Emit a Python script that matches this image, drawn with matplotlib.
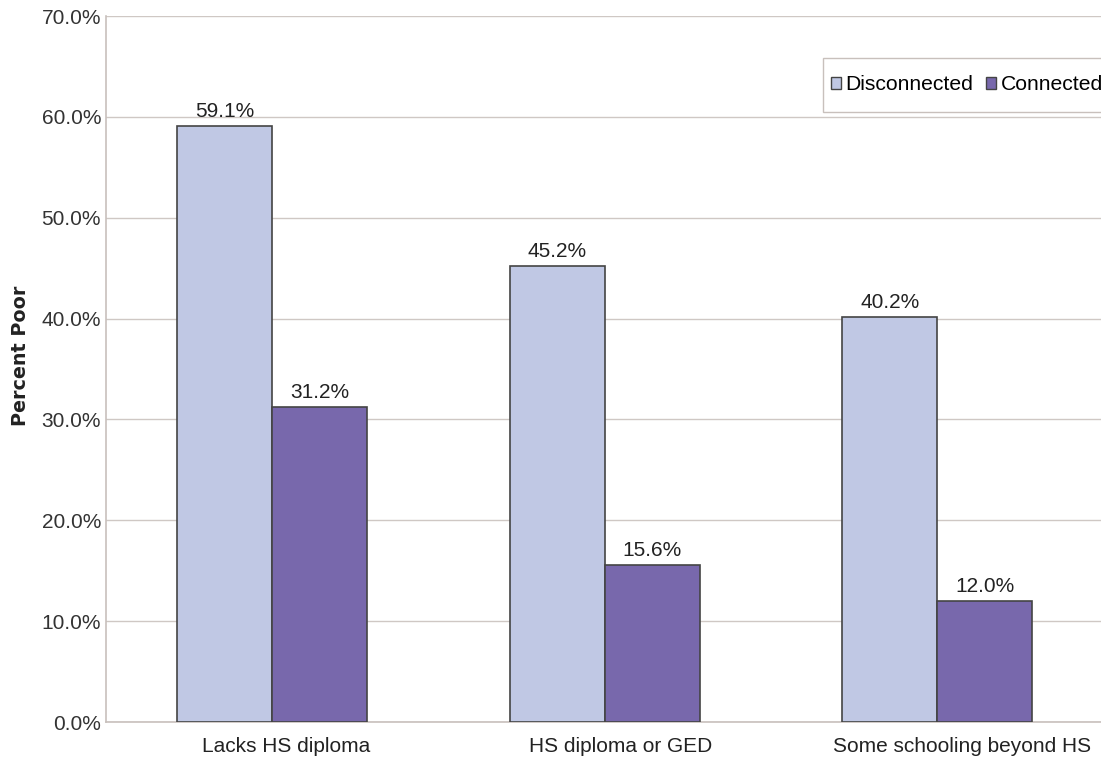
import matplotlib
matplotlib.use("Agg")
import matplotlib.pyplot as plt
import matplotlib.transforms as mtransforms
import numpy as np
from matplotlib.patches import Patch, Rectangle

categories = ["Lacks HS diploma", "HS diploma or GED", "Some schooling beyond HS"]
disconnected = [59.1, 45.2, 40.2]
connected = [31.2, 15.6, 12.0]
yticks = [0, 10, 20, 30, 40, 50, 60, 70]

plt.rcParams['font.family'] = ['Liberation Sans', 'DejaVu Sans']

fig = plt.figure(figsize=(11.01, 7.58), dpi=100)
ax = fig.add_axes([106/1101, 1-722/758, 997.5/1101, (722-16)/758])

c_light = "#c0c8e4"
c_dark = "#7868ac"
edge = "#444444"
w = 0.286
x = np.arange(len(categories))

b1 = ax.bar(x - w/2, disconnected, w, color=c_light, edgecolor=edge, linewidth=1.2, zorder=3)
b2 = ax.bar(x + w/2, connected, w, color=c_dark, edgecolor=edge, linewidth=1.2, zorder=3)

for bars, vals in ((b1, disconnected), (b2, connected)):
    for r, v in zip(bars, vals):
        ax.text(r.get_x() + r.get_width()/2, v + 0.5, f"{v:.1f}%", ha='center', va='bottom',
                fontsize=15, color="#222222")

ax.set_xlim(-0.5, 2.5)
ax.set_ylim(0, 70)
ax.set_yticks(yticks)
ax.set_yticklabels([f"{t:.1f}%" for t in yticks], fontsize=15, color="#333333")
ax.set_xticks(x)
ax.set_xticklabels(categories, fontsize=15, color="#222222")
ax.tick_params(axis='x', length=0, pad=11)
ax.tick_params(axis='y', length=0, pad=3.5)

# the reference's category labels sit slightly right of the group centres
shifts_px = [14, 16, 25]
for lab, s in zip(ax.get_xticklabels(), shifts_px):
    lab.set_transform(lab.get_transform() + mtransforms.ScaledTranslation(s/100, 0, fig.dpi_scale_trans))

ax.grid(axis='y', color="#cfc8c4", linewidth=1.0, zorder=0)
for s in ['top', 'right']:
    ax.spines[s].set_visible(False)
for s in ['left', 'bottom']:
    ax.spines[s].set_color("#c8c0bc")
    ax.spines[s].set_linewidth(1.2)

ax.set_ylabel("Percent Poor", fontsize=13.8, fontweight='bold', color="#222222",
              family=['DejaVu Sans'])
ax.yaxis.set_label_coords(-0.076, 0.518)

# legend frame (runs off the right edge, as in the reference)
fig.patches.append(Rectangle((823/1101, 1-112/758), 300/1101, 54/758, transform=fig.transFigure,
                             facecolor='white', edgecolor="#c8c0bc", linewidth=1.0, zorder=5))
handles = [Patch(facecolor=c_light, edgecolor=edge, linewidth=1.0, label="Disconnected"),
           Patch(facecolor=c_dark, edgecolor=edge, linewidth=1.0, label="Connected")]
leg = fig.legend(handles=handles, loc='center left', bbox_to_anchor=(823/1101, 1-85/758),
                 ncol=2, fontsize=15.2, frameon=False, handlelength=0.48,
                 handleheight=0.48, handletextpad=0.22, columnspacing=0.6,
                 borderpad=0.37, borderaxespad=0)
leg.set_zorder(6)

fig.savefig("out.png", dpi=100)
